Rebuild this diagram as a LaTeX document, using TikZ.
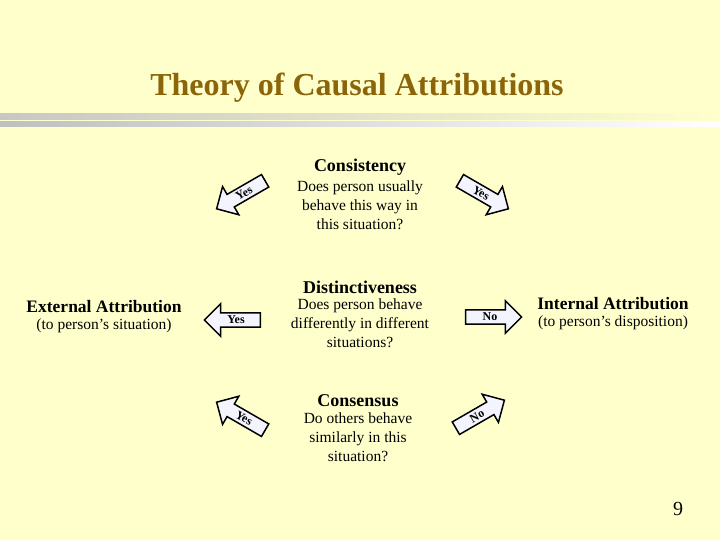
\documentclass[tikz,border=0pt]{standalone}
\usepackage{fontspec}
\setmainfont{Liberation Serif}
\usetikzlibrary{positioning,shapes.arrows}

\definecolor{slidebg}{RGB}{255,255,204}
\definecolor{titlebrown}{RGB}{140,100,10}
\definecolor{barbrown}{RGB}{150,100,10}
\definecolor{barpurple}{RGB}{125,10,80}
\definecolor{arrowfill}{RGB}{244,244,255}

\tikzset{
  heading/.style={font=\bfseries\fontsize{18}{20}\selectfont, inner sep=0pt},
  question/.style={font=\fontsize{15.5}{19}\selectfont, align=center, inner sep=0pt},
  attrib/.style={font=\bfseries\fontsize{17.5}{20}\selectfont, inner sep=0pt},
  attribnote/.style={font=\fontsize{15.5}{18}\selectfont, inner sep=0pt},
  blockarrow/.style={single arrow, draw, fill=arrowfill, line width=1.5pt,
    inner sep=2.5pt, minimum height=56pt, single arrow head extend=9pt,
    font=\bfseries\fontsize{12}{13}\selectfont},
  backarrow/.style={blockarrow, shape border rotate=180}
}

\begin{document}
\begin{tikzpicture}[x=1pt,y=-1pt]

        \fill[slidebg] (0,0) rectangle (720,540);
        \useasboundingbox (0,0) rectangle (720,540);

        % title and bars
        \node[font=\bfseries\fontsize{32}{34}\selectfont, text=titlebrown] (title) at (357,88) {Theory of Causal Attributions};
        \shade[left color=black!22, middle color=barbrown, right color=slidebg] (0,114) rectangle (720,120);
        \shade[left color=black!25, middle color=barpurple, right color=white] (0,122) rectangle (720,127);

        \begin{scope}[every node/.style={heading}]
          \node (cons)  at (360,167) {Consistency};
          \node (dist)  at (360,287) {Distinctiveness};
          \node (agree) at (358,401) {Consensus};
        \end{scope}

        \begin{scope}[every node/.style={question}]
          \node[below=5pt of cons]  (consq)  {Does person usually\\behave this way in\\this situation?};
          \node[below=5pt of dist]  (distq)  {Does person behave\\differently in different\\situations?};
          \node[below=5pt of agree] (agreeq) {Do others behave\\similarly in this\\situation?};
        \end{scope}

        \node[attrib] (ext) at (104,307) {External Attribution};
        \node[attribnote, below=5pt of ext] (extn) {(to person's situation)};
        \node[attrib] (int) at (613,304) {Internal Attribution};
        \node[attribnote, below=5pt of int] (intn) {(to person's disposition)};

        % block arrows
        \node[backarrow, rotate=30]   (consyes)  at (244,193) {Yes};
        \node[blockarrow, rotate=-30] (consyes2) at (481,193) {Yes};
        \node[backarrow]              (distyes)  at (236,320) {Yes};
        \node[blockarrow]             (distno)   at (490,317) {No};
        \node[backarrow, rotate=-30]  (agreeyes) at (244,418) {Yes};
        \node[blockarrow, rotate=30]  (agreeno)  at (477,416) {No};

        \node[font=\fontsize{20}{22}\selectfont] (page) at (678,509) {9};

      \end{tikzpicture}
\end{document}
